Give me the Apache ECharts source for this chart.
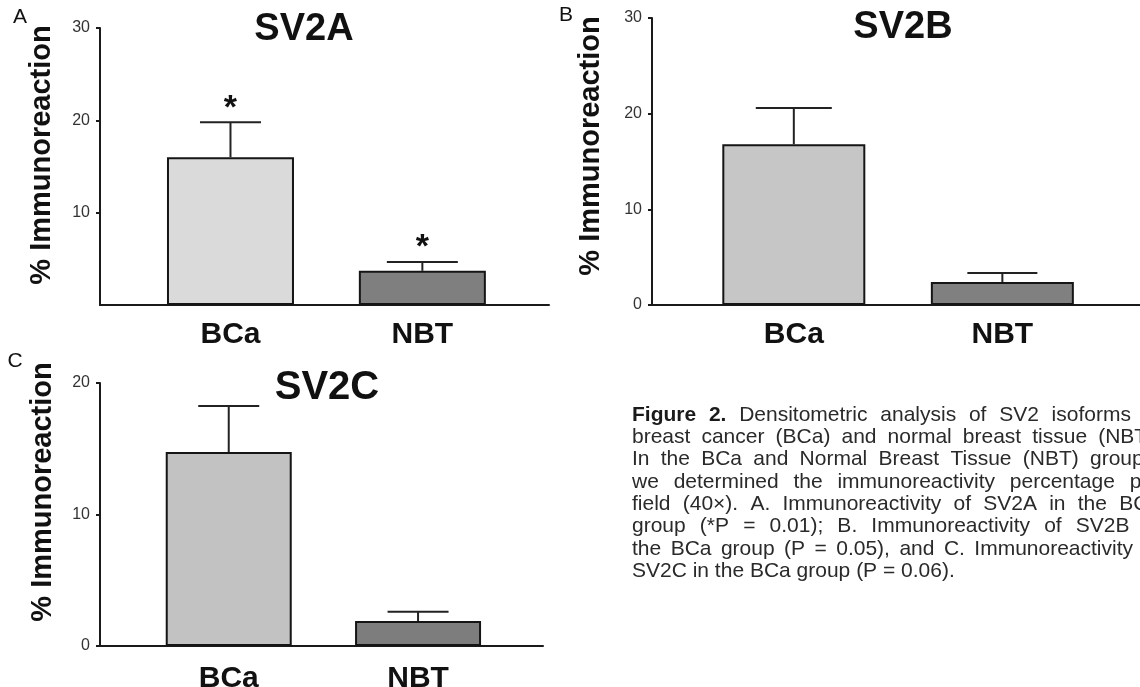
<!DOCTYPE html>
<html>
<head>
<meta charset="utf-8">
<script src="https://cdn.jsdelivr.net/npm/echarts@6/dist/echarts.min.js"></script>
<style>
html,body{margin:0;padding:0;background:#fff;}
#c{width:1140px;height:687px;}
</style>
</head>
<body>
<div id="c"></div>
<script>
// ---- data ----
const categories = ['BCa', 'NBT'];
const panelLetters = ['A', 'B', 'C'];
const panelTitles = ['SV2A', 'SV2B', 'SV2C'];
const yAxisTitle = '% Immunoreaction';
const sv2aMean = [16.0, 3.7];
const sv2aSem = [3.8, 0.95];
const sv2aMarks = ['*', '*'];
const sv2bMean = [16.8, 2.4];
const sv2bSem = [3.8, 0.95];
const sv2bMarks = ['', ''];
const sv2cMean = [14.75, 1.9];
const sv2cSem = [3.5, 0.7];
const sv2cMarks = ['', ''];
const yMax = [30, 30, 20];
const yStep = 10;
const captionLines = [
  'Figure 2. Densitometric analysis of SV2 isoforms in',
  'breast cancer (BCa) and normal breast tissue (NBT).',
  'In the BCa and Normal Breast Tissue (NBT) groups,',
  'we determined the immunoreactivity percentage per',
  'field (40×). A. Immunoreactivity of SV2A in the BCa',
  'group (*P = 0.01); B. Immunoreactivity of SV2B in',
  'the BCa group (P = 0.05), and C. Immunoreactivity of',
  'SV2C in the BCa group (P = 0.06).'
];
const captionBoldWords = 2; // "Figure 2." in the first line

// ---- layout / style ----
const FONT = '"Liberation Sans", Arial, sans-serif';
const grids = [
  {left: 100, top: 28, width: 449, height: 277, outerBoundsMode: 'none'},
  {left: 652, top: 18, width: 488, height: 287, outerBoundsMode: 'none'},
  {left: 100, top: 383, width: 443, height: 263, outerBoundsMode: 'none'}
];
const barWidths = [127, 143, 126];
const capWidths = [[61, 71], [76, 70], [61, 61]];
const barColors = [['#dadada', '#7f7f7f'], ['#c6c6c6', '#808080'], ['#c2c2c2', '#7d7d7d']];
const labelMargins = [15, 15, 18];
const showZero = [false, true, true];

const means = [sv2aMean, sv2bMean, sv2cMean];
const sems = [sv2aSem, sv2bSem, sv2cSem];
const marks = [sv2aMarks, sv2bMarks, sv2cMarks];

const xAxes = [], yAxes = [], series = [];
for (let i = 0; i < 3; i++) {
  xAxes.push({
    type: 'value', gridIndex: i, min: 0.32, max: 2.66,
    axisLine: {show: true, lineStyle: {color: '#1a1a1a', width: 2}},
    axisTick: {show: false},
    splitLine: {show: false},
    axisLabel: {
      customValues: [1, 2],
      formatter: v => categories[Math.round(v) - 1] || '',
      fontSize: 30, fontWeight: 'bold', color: '#111', fontFamily: FONT,
      margin: labelMargins[i]
    }
  });
  yAxes.push({
    type: 'value', gridIndex: i, min: 0, max: yMax[i], interval: yStep,
    axisLine: {show: true, lineStyle: {color: '#1a1a1a', width: 2}},
    axisTick: {show: true, length: 4, lineStyle: {color: '#1a1a1a', width: 2}},
    splitLine: {show: false},
    axisLabel: {
      showMinLabel: showZero[i], fontSize: 16, color: '#333', fontFamily: FONT, margin: 10
    }
  });
  const mk = marks[i], cw = capWidths[i];
  series.push({
    type: 'bar', xAxisIndex: i, yAxisIndex: i, barWidth: barWidths[i],
    data: means[i].map((v, k) => ({value: [k + 1, v], itemStyle: {color: barColors[i][k]}})),
    itemStyle: {borderColor: '#151515', borderWidth: 2},
    silent: true, animation: false
  });
  series.push({
    type: 'custom', xAxisIndex: i, yAxisIndex: i, z: 5, silent: true, animation: false,
    data: means[i].map((v, k) => [k + 1, v, sems[i][k], k]),
    renderItem: (params, api) => {
      const x = api.value(0), m = api.value(1), s = api.value(2), k = api.value(3);
      const p0 = api.coord([x, m]);
      const p1 = api.coord([x, m + s]);
      const hw = cw[k] / 2;
      const children = [
        {type: 'line', shape: {x1: p0[0], y1: p0[1], x2: p1[0], y2: p1[1]}, style: {stroke: '#222', lineWidth: 2}},
        {type: 'line', shape: {x1: p1[0] - hw, y1: p1[1], x2: p1[0] + hw, y2: p1[1]}, style: {stroke: '#222', lineWidth: 2}}
      ];
      if (mk[k]) {
        children.push({type: 'text', x: p1[0], y: p1[1] - 14,
          style: {text: mk[k], fontSize: 34, fontWeight: 'bold', fontFamily: FONT, fill: '#111', align: 'center', verticalAlign: 'middle'}});
      }
      return {type: 'group', children: children};
    }
  });
}

const graphics = [];
// panel letters
const letterPos = [[20, 17], [566, 15], [15, 361]];
panelLetters.forEach((t, i) => graphics.push({type: 'text', x: letterPos[i][0], y: letterPos[i][1],
  style: {text: t, fontSize: 21, fontFamily: FONT, fill: '#111', align: 'center', verticalAlign: 'middle'}}));
// titles
const titlePos = [[304, 30], [903, 28], [327, 388]];
const titleSizes = [38, 38, 40];
panelTitles.forEach((t, i) => graphics.push({type: 'text', x: titlePos[i][0], y: titlePos[i][1],
  style: {text: t, fontSize: titleSizes[i], fontWeight: 'bold', fontFamily: FONT, fill: '#111', align: 'center', verticalAlign: 'middle'}}));
// y axis titles
const yTitlePos = [[42, 155], [591, 146], [43, 492]];
yTitlePos.forEach(p => graphics.push({type: 'text', x: p[0], y: p[1], rotation: Math.PI / 2,
  style: {text: yAxisTitle, fontSize: 29, fontWeight: 'bold', fontFamily: FONT, fill: '#111', align: 'center', verticalAlign: 'middle'}}));

// caption: justified paragraph, word by word
const capSize = 21, capLeft = 632, capRight = 1160, capTop = 415, capStep = 22.3;
const mctx = document.createElement('canvas').getContext('2d');
function measure(word, bold) {
  mctx.font = (bold ? 'bold ' : '') + capSize + 'px "Liberation Sans", Arial, sans-serif';
  return mctx.measureText(word).width;
}
captionLines.forEach((line, j) => {
  const words = line.split(' ');
  const bolds = words.map((w, k) => j === 0 && k < captionBoldWords);
  const widths = words.map((w, k) => measure(w, bolds[k]));
  const total = widths.reduce((a, b) => a + b, 0);
  const last = j === captionLines.length - 1;
  const gap = last ? measure(' ', false) : (capRight - capLeft - total) / (words.length - 1);
  let x = capLeft;
  words.forEach((w, k) => {
    graphics.push({type: 'text', x: x, y: capTop + j * capStep,
      style: {text: w, fontSize: capSize, fontWeight: bolds[k] ? 'bold' : 'normal', fontFamily: FONT,
        fill: bolds[k] ? '#1a1a1a' : '#2a2a2a', align: 'left', verticalAlign: 'middle'}});
    x += widths[k] + gap;
  });
});

const chart = echarts.init(document.getElementById('c'), null, {renderer: 'canvas'});
chart.setOption({
  backgroundColor: '#ffffff',
  animation: false,
  grid: grids,
  xAxis: xAxes,
  yAxis: yAxes,
  series: series,
  graphic: graphics
});
</script>
</body>
</html>
